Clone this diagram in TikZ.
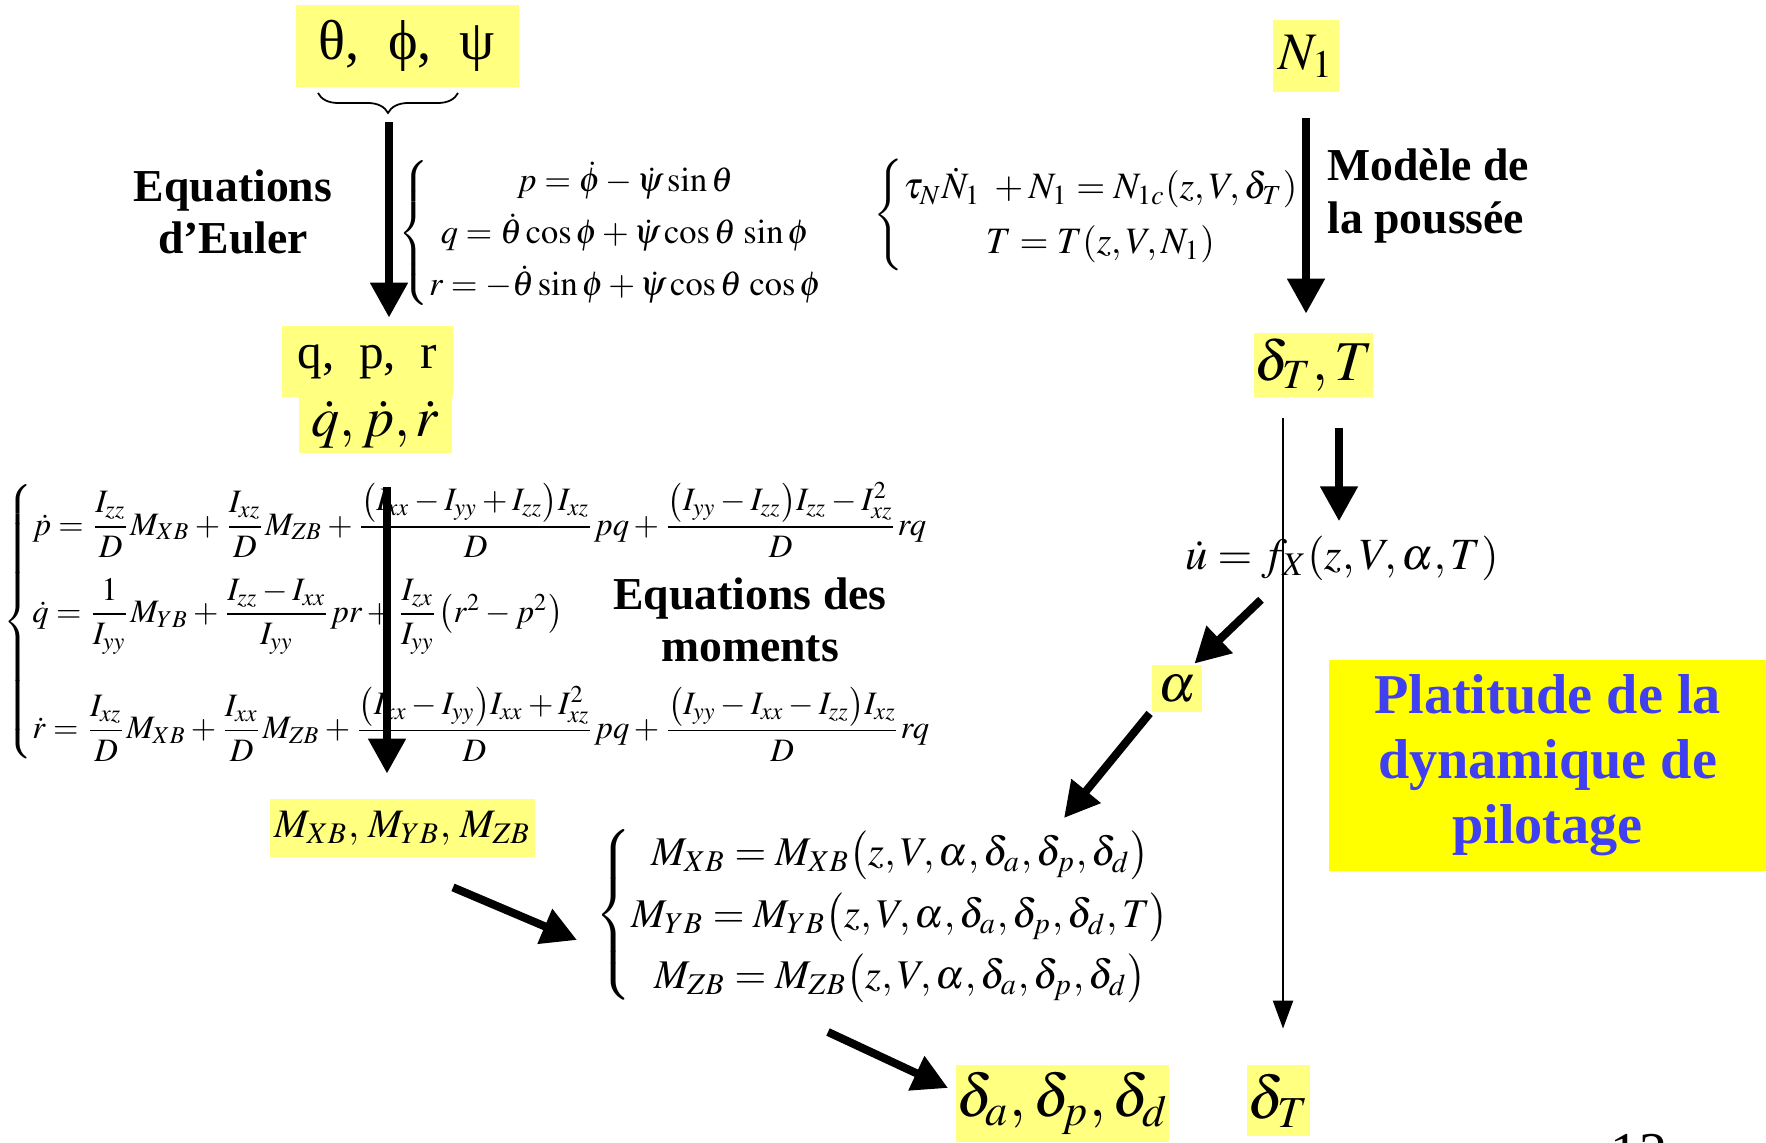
\documentclass[tikz,border=0pt]{standalone}
\usepackage{amsmath}
\usepackage{mathptmx}
\usepackage{fontspec}
\setmainfont{Liberation Serif}
\usetikzlibrary{arrows.meta}
\usetikzlibrary{decorations.pathreplacing}
\definecolor{pale}{RGB}{255,255,128}
\definecolor{flash}{RGB}{255,255,0}
\definecolor{ink}{RGB}{64,64,240}

\begin{document}
\begin{tikzpicture}[x=0.1mm, y=-0.1mm, line width=0.8pt,
  hl/.style={fill=pale, inner sep=0pt},
  fatarrow/.style={-{Triangle[length=3.5mm,width=3.6mm]}, line width=2.3pt},
  slimarrow/.style={-{Triangle[length=2.8mm,width=2mm]}, line width=0.6pt},
  lbl/.style={font=\fontsize{13}{15}\selectfont\bfseries, align=center}]
\useasboundingbox (0,0) rectangle (1766,1142);

% --- Euler angles -> rates
\node[hl, minimum width=22.3mm, minimum height=8.2mm, font=\fontsize{16}{19}\selectfont] (ang) at (407,46) {θ,\ \ ϕ,\ \ ψ};
\draw[decorate, decoration={brace, mirror, amplitude=2mm}, line width=0.5pt] (318,93) -- (458,93);
\node[lbl] (eulLbl) at (233,212) {Equations\\d'Euler};
\node[anchor=west, inner sep=0pt, font=\fontsize{9.8}{14.8}\selectfont] (eulEq) at (397,233)
  {$\left\{\begin{array}{@{}c@{}}
   p=\dot\phi-\dot\psi\sin\theta\\
   q=\dot\theta\cos\phi+\dot\psi\cos\theta\,\sin\phi\\
   r=-\dot\theta\sin\phi+\dot\psi\cos\theta\,\cos\phi
   \end{array}\right.$};
\node[hl, minimum width=17.1mm, minimum height=7.1mm, font=\fontsize{14}{17}\selectfont] (qpr) at (367.5,361.5) {q,\ \ p,\ \ r};
\node[hl, minimum width=15.3mm, minimum height=5.6mm, font=\fontsize{16}{19}\selectfont] (qprDot) at (375.5,425) {$\dot q,\dot p,\dot r$};
\coordinate (eulTop) at (389,122);
\draw[fatarrow, shorten >=0.7mm] (eulTop) -- (eulTop |- qpr.north);

% --- thrust model
\node[hl, minimum width=6.6mm, minimum height=7.2mm, font=\fontsize{15}{18}\selectfont] (nOne) at (1306,56) {$N_1$};
\node[anchor=west, inner sep=0pt, font=\fontsize{10.6}{15.6}\selectfont] (thrEq) at (872,215)
  {$\left\{\begin{array}{@{}c@{}}
   \tau_N\dot N_1\;+N_1=N_{1c}(z,V,\delta_T)\\
   T=T(z,V,N_1)
   \end{array}\right.$};
\node[lbl, align=left, anchor=west, inner sep=0pt] (thrLbl) at (1326,196) {Modèle de\\la poussée};
\node[hl, minimum width=10.9mm, minimum height=6.4mm, font=\fontsize{16}{19}\selectfont] (dT) at (1313.5,365) {$\delta_T,T$};
\draw[fatarrow, shorten >=1.8mm] ([yshift=-2.5mm]nOne.south) -- (nOne.south |- dT.north);

% --- longitudinal chain
\node[inner sep=0pt, font=\fontsize{12.7}{15}\selectfont] (uEq) at (1342,558) {$\dot u=f_X(z,V,\alpha,T)$};
\coordinate (uTop) at (1339,428);
\draw[fatarrow, shorten >=1.3mm] (uTop) -- (uTop |- uEq.north);
\node[hl, minimum width=5mm, minimum height=4.7mm, font=\fontsize{15}{18}\selectfont] (alpha) at (1177,688.5) {$\alpha$};
\draw[fatarrow] ([xshift=-8.1mm,yshift=-1.8mm]uEq.south) -- ([xshift=-0.9mm]alpha.north east);

\node[fill=flash, minimum width=43.7mm, minimum height=21.1mm, text=ink, align=center,
  font=\fontsize{16}{18.5}\selectfont\bfseries] (flat) at (1547.5,765) {Platitude de la\\dynamique de\\pilotage};

% --- moments
\node[anchor=west, inner sep=0pt, font=\fontsize{9.3}{11}\selectfont] (momEq) at (2,622)
  {$\left\{\begin{array}{@{}l@{}}
   \dot p=\dfrac{I_{zz}}{D}M_{XB}+\dfrac{I_{xz}}{D}M_{ZB}+\dfrac{\bigl(I_{xx}-I_{yy}+I_{zz}\bigr)I_{xz}}{D}pq+\dfrac{\bigl(I_{yy}-I_{zz}\bigr)I_{zz}-I_{xz}^2}{D}rq\\[9pt]
   \dot q=\dfrac{1}{I_{yy}}M_{YB}+\dfrac{I_{zz}-I_{xx}}{I_{yy}}pr+\dfrac{I_{zx}}{I_{yy}}\bigl(r^2-p^2\bigr)\\[15pt]
   \dot r=\dfrac{I_{xz}}{D}M_{XB}+\dfrac{I_{xx}}{D}M_{ZB}+\dfrac{\bigl(I_{xx}-I_{yy}\bigr)I_{xx}+I_{xz}^2}{D}pq+\dfrac{\bigl(I_{yy}-I_{xx}-I_{zz}\bigr)I_{xz}}{D}rq
   \end{array}\right.$};
\node[lbl] (momLbl) at (750,620) {Equations des\\moments};
\node[hl, minimum width=26.5mm, minimum height=5.8mm, font=\fontsize{11.5}{14}\selectfont] (mBox) at (402.5,828) {$M_{XB},\,M_{YB},\,M_{ZB}$};
\coordinate (momTop) at (387,487);
\draw[fatarrow, shorten >=2.4mm] (momTop) -- (momTop |- mBox.north);

\node[anchor=west, inner sep=0pt, font=\fontsize{11.6}{17.5}\selectfont] (modEq) at (594,915)
  {$\left\{\begin{array}{@{}c@{}}
   M_{XB}=M_{XB}\bigl(z,V,\alpha,\delta_a,\delta_p,\delta_d\bigr)\\
   M_{YB}=M_{YB}\bigl(z,V,\alpha,\delta_a,\delta_p,\delta_d,T\bigr)\\
   M_{ZB}=M_{ZB}\bigl(z,V,\alpha,\delta_a,\delta_p,\delta_d\bigr)
   \end{array}\right.$};
\coordinate (modIn) at (1064,818);
\draw[fatarrow] ([xshift=-0.1mm]alpha.south west) -- (modIn);
\draw[fatarrow] ([xshift=5.05mm,yshift=-2.9mm]mBox.south) -- ([xshift=-1.7mm,yshift=-2.5mm]modEq.west);

% --- outputs
\node[hl, minimum width=20.7mm, minimum height=7.7mm, font=\fontsize{17}{20}\selectfont] (dA) at (1062.5,1103.5) {$\delta_a,\delta_p,\delta_d$};
\node[hl, minimum width=6.3mm, minimum height=7.1mm, font=\fontsize{17}{20}\selectfont] (dTfin) at (1278.5,1100.5) {$\delta_T$};
\coordinate (modOut) at (828,1032);
\draw[fatarrow] (modOut) -- ([xshift=-0.7mm,yshift=1.55mm]dA.west);
\coordinate (slimTop) at (1283,418);
\draw[slimarrow, shorten >=3.5mm] (slimTop) -- (slimTop |- dTfin.north);

\node[anchor=north, inner sep=0pt, font=\fontsize{16}{19}\selectfont] (pgNum) at (1639,1133) {12};
\end{tikzpicture}
\end{document}
